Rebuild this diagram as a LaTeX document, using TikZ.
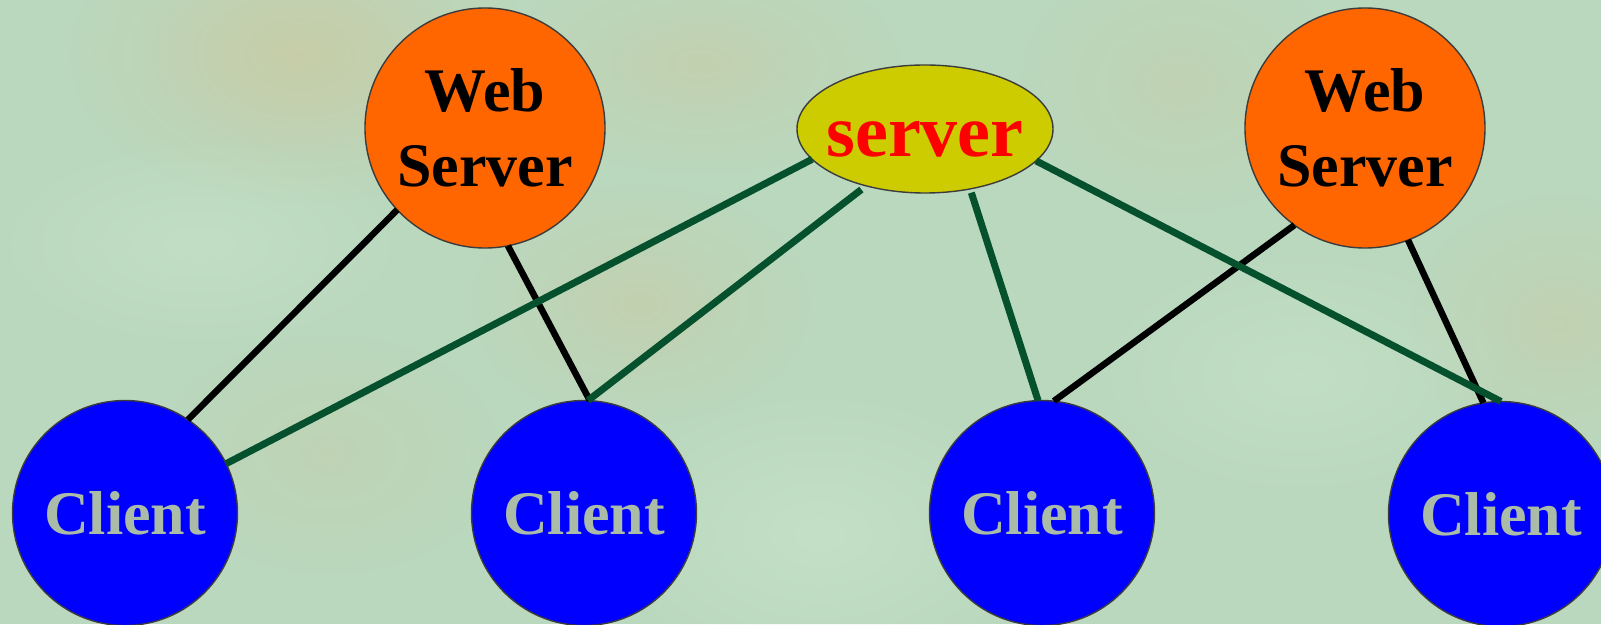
\documentclass[tikz,border=0pt]{standalone}
\usepackage{fontspec}
\setmainfont{Liberation Serif}
\usetikzlibrary{shapes.geometric,fadings}

\definecolor{paper}{RGB}{186,216,190}
\definecolor{sand}{RGB}{204,200,158}
\definecolor{mint}{RGB}{206,234,210}
\definecolor{wsfill}{RGB}{255,102,0}
\definecolor{srvfill}{RGB}{204,204,0}
\definecolor{clientfill}{RGB}{0,0,255}
\definecolor{clienttext}{RGB}{170,187,168}
\definecolor{rimline}{RGB}{60,60,60}
\definecolor{linkgreen}{RGB}{5,80,45}

% smooth radial fade for the backdrop mottling
\tikzfading[name=softblob, inner color=transparent!0, outer color=transparent!100]

% label of the central server, sitting a little below the ellipse centre
\newcommand{\srvlabel}[1]{\makebox[0pt]{\raisebox{-28pt}{#1}}}

\tikzset{
  bignum/.style={font=\bfseries\fontsize{62}{75}\selectfont},
  webserver/.style={circle, draw=rimline, line width=1.4pt, fill=wsfill,
    minimum size=240pt, inner sep=0pt, outer sep=0pt, align=center,
    text=black, bignum},
  mainserver/.style={ellipse, draw=rimline, line width=1.4pt, fill=srvfill,
    minimum width=256pt, minimum height=128pt, inner sep=0pt, outer sep=0pt,
    text=red, text height=0pt, text depth=0pt,
    font=\bfseries\fontsize{74}{80}\selectfont},
  client/.style={circle, draw=rimline, line width=1.4pt, fill=clientfill,
    minimum size=225pt, inner sep=0pt, outer sep=0pt,
    text=clienttext, bignum},
  weblink/.style={draw=black, line width=6.5pt},
  srvlink/.style={draw=linkgreen, line width=7pt},
  blob/.style={path fading=softblob}
}

\begin{document}
\begin{tikzpicture}[x=1pt,y=1pt]
  % canvas
  \useasboundingbox (0,0) rectangle (1601,624);
  \clip (0,0) rectangle (1601,624);
  \fill[paper] (0,0) rectangle (1601,624);

  % soft mottling of the backdrop
  \fill[sand, blob, opacity=0.7] (300,570) ellipse (230 and 150);
  \fill[sand, blob, opacity=0.45] (640,320) ellipse (170 and 120);
  \fill[sand, blob, opacity=0.45] (700,560) ellipse (200 and 110);
  \fill[sand, blob, opacity=0.35] (1180,540) ellipse (160 and 130);
  \fill[sand, blob, opacity=0.4] (1560,300) ellipse (150 and 130);
  \fill[sand, blob, opacity=0.3] (330,170) ellipse (170 and 120);
  \fill[mint, blob, opacity=0.5] (820,90) ellipse (230 and 150);
  \fill[mint, blob, opacity=0.4] (200,380) ellipse (220 and 110);
  \fill[mint, blob, opacity=0.4] (1300,250) ellipse (220 and 130);

  % nodes
  \node[webserver] (ws1) at (485,496) {Web\\Server};
  \node[webserver] (ws2) at (1365,496) {Web\\Server};
  \node[mainserver] (srv) at (925,495) {\srvlabel{server}};
  \node[client] (c1) at (125,111) {Client};
  \node[client] (c2) at (584,111) {Client};
  \node[client] (c3) at (1042,111) {Client};
  \node[client] (c4) at (1501,110) {Client};

  % web server links
  \draw[weblink] (ws1.223) -- (c1.56);
  \draw[weblink] (ws1.281) -- (c2.87);
  \draw[weblink] (ws2.234) -- (c3.84);
  \draw[weblink] (ws2.291) -- (c4.99);

  % server links
  \draw[srvlink] (srv.195.5) -- (c1.26);
  \draw[srvlink, shorten <=6pt] (srv.224) -- (c2.88);
  \draw[srvlink, shorten <=4pt] (srv.307) -- (c3.92);
  \draw[srvlink] (srv.344.5) -- (c4.90);
\end{tikzpicture}
\end{document}
